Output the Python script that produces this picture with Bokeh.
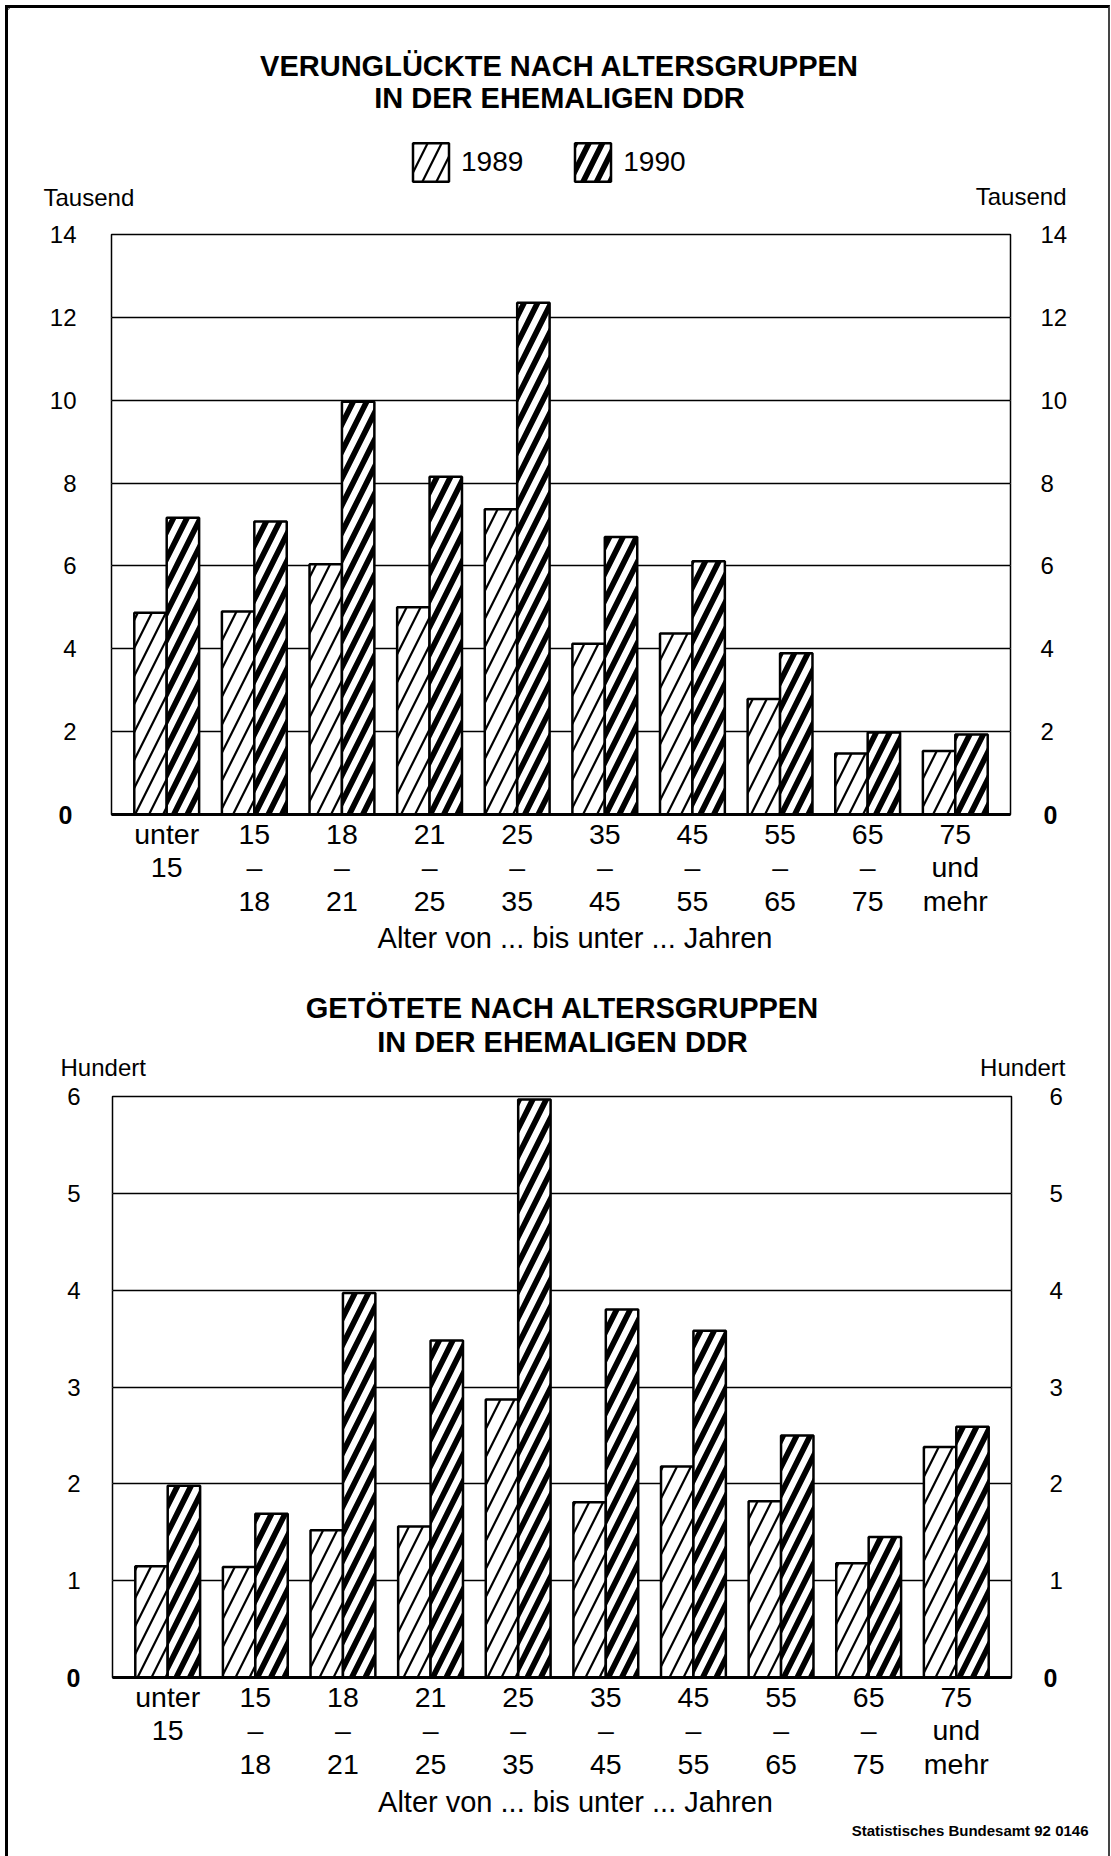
from bokeh.plotting import figure
from bokeh.models import (ColumnDataSource, Range1d, FixedTicker, LinearAxis, Grid,
                          Legend, LegendItem)
from bokeh.core.properties import value
from bokeh.transform import dodge
from bokeh.layouts import column
from bokeh.embed import file_html
from bokeh.resources import INLINE

# ---------------- data ----------------
age_labels = ["unter\n15", "15\n–\n18", "18\n–\n21", "21\n–\n25", "25\n–\n35",
              "35\n–\n45", "45\n–\n55", "55\n–\n65", "65\n–\n75", "75\nund\nmehr"]
years = ["1989", "1990"]
# Verunglückte (Tausend)
verunglueckte_1989 = [4.87, 4.90, 6.04, 5.00, 7.37, 4.12, 4.37, 2.79, 1.47, 1.53]
verunglueckte_1990 = [7.16, 7.07, 9.96, 8.15, 12.35, 6.70, 6.11, 3.89, 1.98, 1.93]
# Getötete (Hundert)
getoetete_1989 = [1.15, 1.14, 1.52, 1.56, 2.87, 1.81, 2.18, 1.82, 1.18, 2.38]
getoetete_1990 = [1.98, 1.69, 3.97, 3.48, 5.97, 3.80, 3.58, 2.50, 1.45, 2.59]
top_ticks = [0, 2, 4, 6, 8, 10, 12, 14]
bottom_ticks = [0, 1, 2, 3, 4, 5, 6]
title_top = ["VERUNGLÜCKTE NACH ALTERSGRUPPEN", "IN DER EHEMALIGEN DDR"]
title_bottom = ["GETÖTETE NACH ALTERSGRUPPEN", "IN DER EHEMALIGEN DDR"]
x_title = "Alter von ... bis unter ... Jahren"
source_note = "Statistisches Bundesamt 92 0146"

FONT = "Liberation Sans"
OX = 8          # page x where the figures start
W = 1100        # figure width
X0, X1 = -0.63, 9.63

STYLE_89 = dict(fill_color="white", line_color="black", line_width=2.5,
                hatch_pattern="/", hatch_color="black", hatch_scale=28, hatch_weight=2.2)
STYLE_90 = dict(fill_color="white", line_color="black", line_width=2.5,
                hatch_pattern="/", hatch_color="black", hatch_scale=27, hatch_weight=5.7)


def no_align(p):
    if "frame_align" in p.properties():
        p.frame_align = False
    return p


def text_panel(top, bottom):
    """A figure whose frame is the whole canvas, in page pixel coordinates."""
    p = figure(width=W, height=bottom - top, x_range=Range1d(OX, OX + W),
               y_range=Range1d(bottom, top), output_backend="svg", toolbar_location=None,
               x_axis_location=None, y_axis_location=None,
               min_border_left=0, min_border_right=0, min_border_top=0, min_border_bottom=0,
               background_fill_color="white", border_fill_color="white")
    p.outline_line_color = None
    p.grid.visible = False
    return no_align(p)


def put(p, xs, ys, texts, size, align="center", bold=False, font=FONT):
    p.text(x=xs, y=ys, text=texts, text_font=value(font), text_font_size=value(size),
           text_align=align, text_baseline="middle", text_color="black",
           text_font_style=("bold" if bold else "normal"))


def chart(top, bottom, frame, ymax, ticks, v89, v90, std):
    L, R, T, B = frame
    p = figure(width=W, height=bottom - top, x_range=Range1d(X0, X1),
               y_range=Range1d(0, ymax), y_axis_location=None,
               output_backend="svg", toolbar_location=None,
               min_border_left=L - OX, min_border_right=OX + W - R,
               min_border_top=T - top, min_border_bottom=bottom - B,
               background_fill_color="white", border_fill_color="white")
    no_align(p)
    p.outline_line_color = "black"
    p.outline_line_width = 1.5

    xa = p.xaxis[0]
    xa.ticker = FixedTicker(ticks=list(range(len(age_labels))))
    xa.major_label_overrides = {i: lab for i, lab in enumerate(age_labels)}
    xa.axis_line_width = 3
    xa.axis_line_color = "black"
    xa.major_tick_line_color = None
    xa.minor_tick_line_color = None
    xa.major_label_standoff = -3
    xa.major_label_text_font = FONT
    xa.major_label_text_font_size = "28.5px"
    xa.major_label_text_line_height = 1.05
    xa.major_label_text_color = "black"
    p.xgrid.visible = False

    nonzero = [t for t in ticks if t != 0]
    (s0l, sml, s0r, smr) = std
    # inner axes carry the bold zero, outer ones the other values
    for side, s0, sm in (("left", s0l, sml), ("right", s0r, smr)):
        az = LinearAxis(ticker=FixedTicker(ticks=[0]), major_label_standoff=s0,
                        major_label_text_font=FONT, major_label_text_font_size="25px",
                        major_label_text_font_style="bold", major_label_text_color="black",
                        axis_line_color=None, major_tick_line_color=None,
                        minor_tick_line_color=None)
        am = LinearAxis(ticker=FixedTicker(ticks=nonzero), major_label_standoff=sm,
                        major_label_text_font=FONT, major_label_text_font_size="24px",
                        major_label_text_color="black",
                        axis_line_color=None, major_tick_line_color=None,
                        minor_tick_line_color=None)
        p.add_layout(az, side)
        p.add_layout(am, side)

    g = Grid(dimension=1, ticker=FixedTicker(ticks=ticks), grid_line_color="black",
             grid_line_width=1.3)
    p.add_layout(g)

    src = ColumnDataSource(dict(pos=list(range(len(age_labels))), v89=v89, v90=v90))
    p.vbar(x=dodge("pos", -0.185), top="v89", width=0.37, source=src, **STYLE_89)
    p.vbar(x=dodge("pos", 0.185), top="v90", width=0.37, source=src, **STYLE_90)
    return p


# ---- header of the first chart (page y 8 .. 212)
h1 = text_panel(8, 212)
put(h1, [559, 559], [65, 97], title_top, "29px", bold=True)
put(h1, [43], [197], ["Tausend"], "24px", align="left")
put(h1, [1066], [196], ["Tausend"], "24px", align="right")
# legend swatches: renderers that carry the bar styles (their single zero-size
# entry lies left of the visible range, only the legend shows them)
swatch = ColumnDataSource(dict(x=[0], top=[0]))
d89 = h1.vbar(x="x", top="top", bottom="top", width=0, source=swatch, **STYLE_89)
d90 = h1.vbar(x="x", top="top", bottom="top", width=0, source=swatch, **STYLE_90)
lg = Legend(items=[LegendItem(label=years[0], renderers=[d89]),
                   LegendItem(label=years[1], renderers=[d90])],
            orientation="horizontal", location=(400, 26), margin=0,
            padding=0, spacing=47, glyph_width=45, glyph_height=48, label_height=48,
            label_standoff=8, label_text_font=FONT, label_text_font_size="28px",
            label_text_color="black", border_line_color=None, background_fill_alpha=0)
h1.add_layout(lg)

# ---- first chart (page y 212 .. 922)
c1 = chart(212, 922, (111, 1010, 234, 814), 14, top_ticks,
           verunglueckte_1989, verunglueckte_1990, (33, -27, 27, -26))

# ---- between the charts (page y 922 .. 1080)
h2 = text_panel(922, 1080)
put(h2, [574.5], [937], [x_title], "29px")
put(h2, [562, 562], [1007.5, 1041.5], title_bottom, "29px", bold=True)
put(h2, [60], [1067], ["Hundert"], "24px", align="left")
put(h2, [1065], [1067], ["Hundert"], "24px", align="right")

# ---- second chart (page y 1080 .. 1785)
c2 = chart(1080, 1785, (112, 1011, 1096, 1677), 6, bottom_ticks,
           getoetete_1989, getoetete_1990, (26, -23, 26, -17))

# ---- footer (page y 1785 .. 1856)
h3 = text_panel(1785, 1856)
put(h3, [575], [1801], [x_title], "29px")
put(h3, [1088], [1830], [source_note], "15px", align="right", bold=True)

layout = column(h1, c1, h2, c2, h3, margin=(5, 0, 0, 5),
                styles={"border-left": "3px solid black", "border-top": "3px solid black",
                        "border-right": "2px solid #444"})

open("out.html", "w").write(file_html(layout, INLINE, "Verunglückte und Getötete"))
